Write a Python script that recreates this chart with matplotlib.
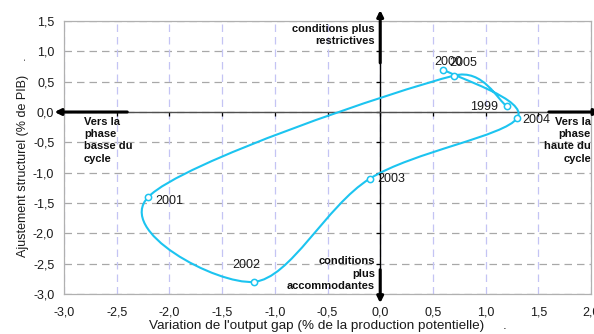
import matplotlib
matplotlib.use("Agg")
import matplotlib.pyplot as plt
from matplotlib.path import Path
from matplotlib.patches import PathPatch
import numpy as np

plt.rcParams['font.family'] = ['Liberation Sans', 'DejaVu Sans']

# ---- data ----
years = ["1999", "2000", "2001", "2002", "2003", "2004", "2005"]
output_gap_change = [1.2, 0.7, -2.2, -1.2, -0.1, 1.3, 0.6]
structural_adj = [0.1, 0.6, -1.4, -2.8, -1.1, -0.1, 0.7]
# label offsets (points) relative to marker: left edge / vertical centre
label_dx = [-26.4, -13.9, 4.8, -15.3, 5.5, 3.9, 4.1]
label_dy = [-0.7, 9.6, -3.1, 12.2, 0.0, -1.2, 5.0]

xticks = [-3.0, -2.5, -2.0, -1.5, -1.0, -0.5, 0.0, 0.5, 1.0, 1.5, 2.0]
yticks = [-3.0, -2.5, -2.0, -1.5, -1.0, -0.5, 0.0, 0.5, 1.0, 1.5]

def fmt(v):
    return f"{v:.1f}".replace(".", ",")

CURVE = '#1cc4f0'
TXT = '#1a1a1a'

fig = plt.figure(figsize=(5.94, 3.34), dpi=100)
pos = [64/594, 1-294/334, (591-64)/594, (294-21)/334]
ax = fig.add_axes(pos)
ax.set_xlim(xticks[0], xticks[-1])
ax.set_ylim(yticks[0], yticks[-1])

# grid
for y in yticks:
    ax.axhline(y, color='#a8a8a8', lw=0.9, ls=(0, (6, 4)), zorder=0)
for x in xticks:
    ax.axvline(x, color='#c4c4f4', lw=0.9, ls=(0, (6, 4)), zorder=0)

for s in ax.spines.values():
    s.set_color('#b0b0b0')
    s.set_linewidth(0.9)
ax.set_xticks(xticks)
ax.set_yticks(yticks)
ax.set_xticklabels([fmt(v) for v in xticks], fontsize=9, color=TXT)
ax.set_yticklabels([fmt(v) for v in yticks], fontsize=9, color=TXT)
ax.tick_params(axis='x', length=0, pad=9)
ax.tick_params(axis='y', length=0, pad=7)
ax.set_xlabel("Variation de l'output gap (% de la production potentielle)     .",
              fontsize=9.7, color=TXT, labelpad=1)
ax.set_ylabel("Ajustement structurel (% de PIB)    .", fontsize=9, color=TXT, labelpad=3)

# crossing axes at zero
ax2 = fig.add_axes(pos)
ax2.set_xlim(xticks[0], xticks[-1])
ax2.set_ylim(yticks[0], yticks[-1])
ax2.patch.set_visible(False)
ax2.spines['top'].set_visible(False)
ax2.spines['right'].set_visible(False)
ax2.spines['bottom'].set_position(('data', 0))
ax2.spines['left'].set_position(('data', 0))
ax2.spines['bottom'].set_color('#505050')
ax2.spines['left'].set_color('black')
ax2.spines['bottom'].set_linewidth(1.0)
ax2.spines['left'].set_linewidth(1.0)
ax2.tick_params(axis='both', direction='out', length=3, width=0.9, labelbottom=False, labelleft=False)
ax2.set_xticks(xticks[1:-1])
ax2.set_yticks(yticks[1:-1])

# smoothed curve (Excel-like bezier, computed in display space)
P = ax2.transData.transform(np.column_stack([output_gap_change, structural_adj]))
n = len(P)
f = 1.0 / 6.0
verts = [P[0]]
codes = [Path.MOVETO]
for i in range(n - 1):
    p0 = P[i - 1] if i > 0 else P[i]
    p1 = P[i]
    p2 = P[i + 1]
    p3 = P[i + 2] if i + 2 < n else P[i + 1]
    d12 = np.linalg.norm(p2 - p1)
    t1 = (p2 - p0) * f
    t2 = (p3 - p1) * f
    if np.linalg.norm(t1) > d12 / 2:
        t1 = t1 / np.linalg.norm(t1) * d12 / 2
    if np.linalg.norm(t2) > d12 / 2:
        t2 = t2 / np.linalg.norm(t2) * d12 / 2
    verts += [p1 + t1, p2 - t2, p2]
    codes += [Path.CURVE4] * 3
verts = ax2.transData.inverted().transform(np.array(verts))
ax2.add_patch(PathPatch(Path(verts, codes), facecolor='none', edgecolor=CURVE, lw=1.5, zorder=3))
ax2.plot(output_gap_change, structural_adj, ls='none', marker='o', ms=4.5,
         mfc='white', mec=CURVE, mew=1.1, zorder=4)

for yr, x, y, dx, dy in zip(years, output_gap_change, structural_adj, label_dx, label_dy):
    ax2.annotate(yr, (x, y), xytext=(dx, dy), textcoords='offset points',
                 ha='left', va='center', fontsize=9, color=TXT, zorder=5)

# arrows
ap = dict(arrowstyle='-|>', lw=2.2, color='black', mutation_scale=9, shrinkA=0, shrinkB=0)
ax2.annotate('', xy=(-3.09, 0), xytext=(-2.40, 0), arrowprops=ap, annotation_clip=False)
ax2.annotate('', xy=(2.09, 0), xytext=(1.60, 0), arrowprops=ap, annotation_clip=False)
ax2.annotate('', xy=(0, 1.68), xytext=(0, 0.81), arrowprops=ap, annotation_clip=False)
ax2.annotate('', xy=(0, -3.15), xytext=(0, -2.6), arrowprops=ap, annotation_clip=False)

bold = dict(fontsize=8, fontweight='bold', color='#101010', linespacing=1.28)
ax2.text(-0.05, 1.45, "conditions plus\nrestrictives", ha='right', va='top', multialignment='right', **bold)
ax2.text(-0.05, -2.95, "conditions\nplus\naccommodantes", ha='right', va='bottom', multialignment='right', **bold)
ax2.text(-2.81, -0.08, "Vers la\nphase\nbasse du\ncycle", ha='left', va='top', multialignment='left', **bold)
ax2.text(2.0, -0.08, "Vers la\nphase\nhaute du\ncycle", ha='right', va='top', multialignment='right', **bold)

fig.savefig("out.png", dpi=100)
